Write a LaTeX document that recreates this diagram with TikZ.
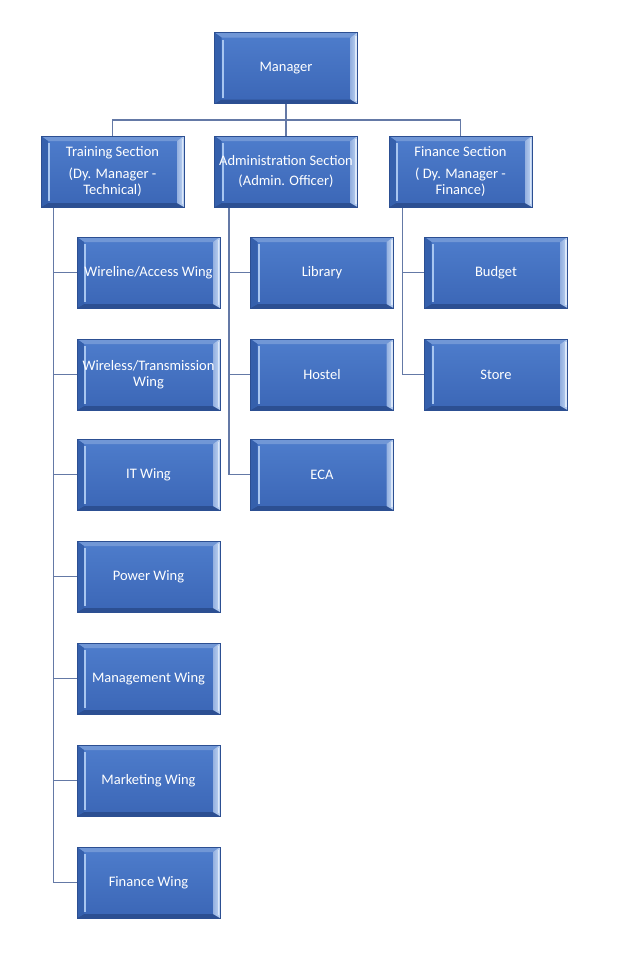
\documentclass[tikz,border=0pt]{standalone}
\usepackage{fontspec}
\setmainfont{Carlito}
\usetikzlibrary{backgrounds}
\definecolor{boxtop}{HTML}{4E7DCC}
\definecolor{boxbot}{HTML}{3B66B6}
\definecolor{boxedge}{HTML}{2C4F92}
\definecolor{bevlight}{HTML}{A8C6F0}
\definecolor{bevdark}{HTML}{3560AC}
\definecolor{linecol}{HTML}{6479A6}
\tikzset{
  orgbox/.style={minimum width=143pt, minimum height=71pt, inner sep=1pt,
    text=white, font=\fontsize{14.5}{16.5}\selectfont, align=center,
    draw=boxedge, line width=0.8pt,
    top color=boxtop, bottom color=boxbot,
    path picture={
      \coordinate (pnw) at (path picture bounding box.north west);
      \coordinate (pse) at (path picture bounding box.south east);
      % top bevel
      \fill[boxtop!80!white] (pnw) -- (pnw -| pse) -- ([xshift=-7pt,yshift=-5pt]pnw -| pse) -- ([xshift=7pt,yshift=-5pt]pnw) -- cycle;
      % bottom bevel
      \fill[boxedge] (pse) -- (pse -| pnw) -- ([xshift=7pt,yshift=4pt]pse -| pnw) -- ([xshift=-7pt,yshift=4pt]pse) -- cycle;
      % left bevel
      \fill[bevdark] (pnw) -- (pnw |- pse) -- ([xshift=7pt,yshift=4pt]pnw |- pse) -- ([xshift=7pt,yshift=-5pt]pnw) -- cycle;
      \draw[bevlight, line width=2pt] ([xshift=8pt,yshift=-7pt]pnw) -- ([xshift=8pt,yshift=6pt]pnw |- pse);
      % right bevel
      \shade[left color=boxtop!60!white, right color=bevlight!70!white] (pse) -- (pse |- pnw) -- ([xshift=-7pt,yshift=-5pt]pse |- pnw) -- ([xshift=-7pt,yshift=4pt]pse) -- cycle;
      \draw[white!60!bevlight, line width=1.8pt] ([xshift=-1.5pt,yshift=-3pt]pse |- pnw) -- ([xshift=-1.5pt,yshift=3pt]pse);
    }},
  conn/.style={draw=linecol, line width=1.6pt}
}
\begin{document}
\begin{tikzpicture}[x=1pt,y=-1pt]
\useasboundingbox (0,0) rectangle (630,954);

\node[orgbox] (mgr) at (286,68) {Manager};
\node[orgbox] (train) at (112.5,171.5) {Training Section\\[5pt](Dy. Manager -\\Technical)};
\node[orgbox] (admin) at (286,171.5) {Administration Section\\[4pt](Admin. Officer)};
\node[orgbox] (fin) at (460.5,171.5) {Finance Section\\[5pt]( Dy. Manager -\\Finance)};

\node[orgbox] (wl) at (148.5,272.5) {Wireline/Access Wing};
\node[orgbox] (ws) at (148.5,374.5) {Wireless/Transmission\\Wing};
\node[orgbox] (it) at (148.5,474.5) {IT Wing};
\node[orgbox] (pw) at (148.5,576.5) {Power Wing};
\node[orgbox] (mw) at (148.5,678.5) {Management Wing};
\node[orgbox] (mk) at (148.5,780.5) {Marketing Wing};
\node[orgbox] (fw) at (148.5,882.5) {Finance Wing};

\node[orgbox] (lib) at (322,272.5) {Library};
\node[orgbox] (hos) at (322,374.5) {Hostel};
\node[orgbox] (eca) at (322,474.5) {ECA};

\node[orgbox] (bud) at (496,272.5) {Budget};
\node[orgbox] (sto) at (496,374.5) {Store};

\begin{scope}[on background layer]
  \fill[white] (0,0) rectangle (630,954);
  \coordinate (bus) at (286,120);
  \draw[conn] (mgr.south) -- (admin.north);
  \draw[conn] (train.north) |- (bus) -| (fin.north);
  \coordinate (tt) at ([xshift=13pt]train.south west);
  \coordinate (at) at ([xshift=15pt]admin.south west);
  \coordinate (ft) at ([xshift=14pt]fin.south west);
  \draw[conn] (tt) |- (fw.west);
  \foreach \c in {wl,ws,it,pw,mw,mk} \draw[conn] (tt |- \c.west) -- (\c.west);
  \draw[conn] (at) |- (eca.west);
  \foreach \c in {lib,hos} \draw[conn] (at |- \c.west) -- (\c.west);
  \draw[conn] (ft) |- (sto.west);
  \draw[conn] (ft |- bud.west) -- (bud.west);
\end{scope}
\end{tikzpicture}
\end{document}
